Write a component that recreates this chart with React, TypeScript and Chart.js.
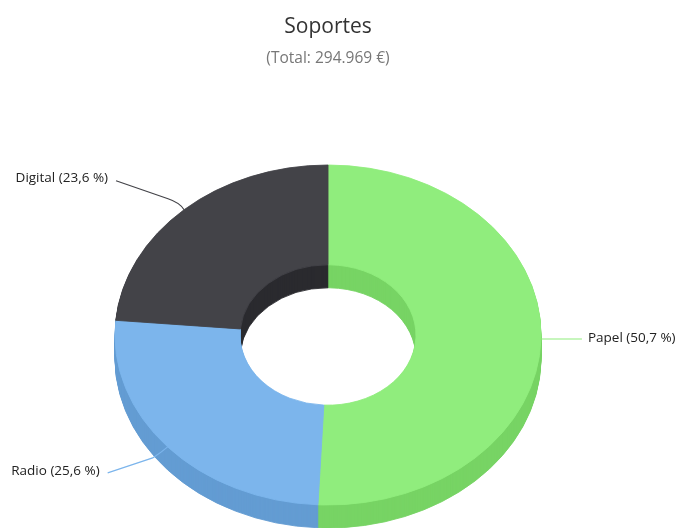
import React, { useEffect, useRef } from "react";
import { Chart, registerables } from "chart.js";

Chart.register(...registerables);

const categories = ["Papel", "Radio", "Digital"];
const shares = [50.7, 25.6, 23.6];
const topColors = ["#90ed7d", "#7cb5ec", "#434348"];
const wallColors = ["#77d464", "#639cd3", "#2a2a2f"];
const chartTitle = "Soportes";
const chartSubtitle = "(Total: 294.969 €)";

const TILT = 0.798;
const DEPTH = 23;
const FONT = "'Open Sans', sans-serif";

// Leader-line geometry, relative to the point on the rim at each slice's middle angle.
const leaders = [
  { end: [41, 0], mid: [20, 0], ctrl: [5, 0], textDx: 6, textDy: -1, align: "left" },
  { end: [-60, 26], mid: [-15, 11], ctrl: [-7, 6], textDx: -8, textDy: -2, align: "right" },
  { end: [-68, -29], mid: [-16, -11], ctrl: [-4, -7], textDx: -8, textDy: -3, align: "right" },
];

const tiltPlugin = {
  id: "tilt3d",
  beforeDatasetDraw(chart: any, args: any) {
    const ctx = chart.ctx;
    const arcs = args.meta.data;
    const cy = arcs[0].y;
    for (let d = DEPTH; d >= 1; d--) {
      ctx.save();
      ctx.translate(0, cy + d);
      ctx.scale(1, TILT);
      ctx.translate(0, -cy);
      arcs.forEach((arc: any, i: number) => {
        const wall = Object.create(arc);
        wall.options = { ...arc.options, backgroundColor: wallColors[i], borderColor: wallColors[i] };
        wall.draw(ctx);
      });
      ctx.restore();
    }
    ctx.save();
    ctx.translate(0, cy);
    ctx.scale(1, TILT);
    ctx.translate(0, -cy);
  },
  afterDatasetDraw(chart: any) {
    chart.ctx.restore();
  },
  afterDatasetsDraw(chart: any) {
    const ctx = chart.ctx;
    const arcs = chart.getDatasetMeta(0).data;
    arcs.forEach((arc: any, i: number) => {
      const angle = (arc.startAngle + arc.endAngle) / 2;
      const ax = arc.x + arc.outerRadius * Math.cos(angle);
      const ay = arc.y + arc.outerRadius * TILT * Math.sin(angle);
      const l = leaders[i];
      ctx.save();
      ctx.strokeStyle = topColors[i];
      ctx.lineWidth = 1.2;
      ctx.beginPath();
      ctx.moveTo(ax + l.end[0], ay + l.end[1]);
      ctx.lineTo(ax + l.mid[0], ay + l.mid[1]);
      ctx.quadraticCurveTo(ax + l.ctrl[0], ay + l.ctrl[1], ax, ay);
      ctx.stroke();
      ctx.fillStyle = "#222222";
      ctx.font = `13.5px ${FONT}`;
      ctx.textAlign = l.align;
      ctx.textBaseline = "middle";
      const text = `${categories[i]} (${String(shares[i]).replace(".", ",")} %)`;
      ctx.fillText(text, ax + l.end[0] + l.textDx, ay + l.end[1] + l.textDy);
      ctx.restore();
    });
  },
};

export default function App() {
  const ref = useRef<HTMLCanvasElement>(null);
  useEffect(() => {
    const chart = new Chart(ref.current!, {
      type: "doughnut",
      data: {
        labels: categories,
        datasets: [
          {
            data: shares,
            backgroundColor: topColors,
            borderColor: topColors,
            borderWidth: 1,
            clip: false,
          } as any,
        ],
      },
      options: {
        animation: false,
        responsive: false,
        events: [],
        radius: 213,
        cutout: "41.3%",
        layout: { padding: { left: 0, right: 20, top: 0, bottom: 0 } },
        plugins: {
          legend: { display: false },
          tooltip: { enabled: false },
          title: {
            display: true,
            text: chartTitle,
            color: "#333333",
            font: { family: FONT, size: 21, weight: "normal", lineHeight: 1.2 },
            padding: { top: 14, bottom: 3 },
          },
          subtitle: {
            display: true,
            text: chartSubtitle,
            color: "#777777",
            font: { family: FONT, size: 15.5, weight: "normal", lineHeight: 1.2 },
            padding: { top: 7.5, bottom: 73.7 },
          },
        },
      } as any,
      plugins: [tiltPlugin],
    });
    return () => chart.destroy();
  }, []);
  return (
    <div style={{ position: "fixed", left: 0, top: 0, width: 676, height: 528, background: "#fff", overflow: "hidden" }}>
      <canvas ref={ref} width={676} height={528} style={{ display: "block" }} />
    </div>
  );
}
